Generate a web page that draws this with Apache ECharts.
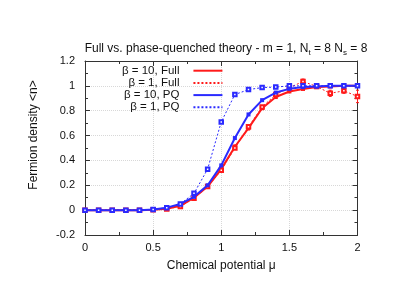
<!DOCTYPE html>
<html>
<head>
<meta charset="utf-8">
<script src="https://cdn.jsdelivr.net/npm/echarts@6/dist/echarts.min.js"></script>
<style>html,body{margin:0;padding:0;background:#fff}#c{width:415px;height:294px}</style>
</head>
<body>
<div id="c"></div>
<script>
var mu = [0,0.1,0.2,0.3,0.4,0.5,0.6,0.7,0.8,0.9,1.0,1.1,1.2,1.3,1.4,1.5,1.6,1.7,1.8,1.9,2.0];
var full10 = [0,0,0,0,0,0.003,0.012,0.035,0.10,0.19,0.33,0.51,0.66,0.82,0.91,0.955,0.975,0.99,0.995,1.0,1.0];
var full10Err = [0,0,0,0,0,0,0.003,0.005,0.008,0.01,0.012,0.015,0.015,0.01,0.008,0.006,0.005,0.004,0.004,0.003,0.003];
var full1  = [0,0,0,0,0,0.003,0.01,0.03,0.095,0.19,0.32,0.50,0.67,0.83,0.93,0.985,1.035,0.995,0.94,0.96,0.915];
var full1Err = [0,0,0,0,0,0,0.005,0.008,0.01,0.01,0.01,0.012,0.012,0.01,0.01,0.01,0.02,0.012,0.025,0.02,0.05];
var pq10   = [0,0,0,0,0,0.005,0.02,0.05,0.107,0.20,0.36,0.58,0.77,0.885,0.946,0.976,0.99,0.995,1.0,1.0,1.0];
var pq1    = [0,0,0,0,0,0.005,0.02,0.05,0.135,0.33,0.71,0.93,0.97,0.986,0.99,1.0,1.0,1.0,1.0,1.0,1.0];
var names = ['β = 10, Full','β = 1, Full','β = 10, PQ','β = 1, PQ'];
var xTicks = [0,0.5,1,1.5,2];
var yTicks = [-0.2,0,0.2,0.4,0.6,0.8,1,1.2];

function pairs(v){ return mu.map(function(m,i){ return [m, v[i]]; }); }
function errData(v, e){ return mu.map(function(m,i){ return [m, v[i]-e[i], v[i]+e[i]]; }); }
var RED = '#ff1a1a', BLUE = '#2a2aff';
var font = 'Liberation Sans, Arial, sans-serif';

function errSeries(v, e, color){
  return {
    type:'custom', data:errData(v, e), silent:true, z:1,
    encode:{x:0, y:[1,2]},
    renderItem:function(params, api){
      var lo = api.coord([api.value(0), api.value(1)]);
      var hi = api.coord([api.value(0), api.value(2)]);
      if (Math.abs(hi[1]-lo[1]) < 1) return null;
      return {type:'group', children:[
        {type:'line', shape:{x1:lo[0], y1:lo[1], x2:hi[0], y2:hi[1]}, style:{stroke:color, lineWidth:1}},
        {type:'line', shape:{x1:lo[0]-1.5, y1:lo[1], x2:lo[0]+1.5, y2:lo[1]}, style:{stroke:color, lineWidth:1}},
        {type:'line', shape:{x1:hi[0]-1.5, y1:hi[1], x2:hi[0]+1.5, y2:hi[1]}, style:{stroke:color, lineWidth:1}}
      ]};
    }
  };
}

var chart = echarts.init(document.getElementById('c'), null, {renderer:'canvas'});
function xAx(pos, labels){
  return {
    type:'value', position:pos, min:0, max:2, interval:0.5,
    axisLine:{show:true, onZero:false, lineStyle:{color:'#333', width:1}},
    axisTick:{show:true, inside:true, length:5, lineStyle:{color:'#333'}},
    minorTick:{show:true, splitNumber:2, length:3, lineStyle:{color:'#333'}},
    splitLine:{show:labels, lineStyle:{color:'#d8d8d8', type:'dotted'}},
    axisLabel:{show:labels, color:'#111', fontSize:11, fontFamily:font, margin:7},
    name: labels ? 'Chemical potential μ' : '', nameLocation:'middle', nameGap:25,
    nameTextStyle:{color:'#111', fontSize:12, fontFamily:font}
  };
}
function yAx(pos, labels){
  return {
    type:'value', position:pos, min:-0.2, max:1.2, interval:0.2,
    axisLine:{show:true, onZero:false, lineStyle:{color:'#333', width:1}},
    axisTick:{show:true, inside:true, length:5, lineStyle:{color:'#333'}},
    minorTick:{show:true, splitNumber:2, length:3, lineStyle:{color:'#333'}},
    splitLine:{show:labels, lineStyle:{color:'#d8d8d8', type:'dotted'}},
    axisLabel:{show:labels, color:'#111', fontSize:11, fontFamily:font, margin:10,
      formatter:function(v){ return String(Math.round(v*10)/10); }},
    name: labels ? 'Fermion density <n>' : '', nameLocation:'middle', nameGap:45, nameRotate:90,
    nameTextStyle:{color:'#111', fontSize:12, fontFamily:font, padding:[0,0,0,26]}
  };
}
chart.setOption({
  animation:false,
  backgroundColor:'#fff',
  title:{text:'Full vs. phase-quenched theory - m = 1, N{s|t} = 8 N{s|s} = 8', left:221, textAlign:'center', top:36,
    textStyle:{fontSize:12, fontWeight:'normal', color:'#111', fontFamily:font,
      rich:{s:{fontSize:8, verticalAlign:'bottom', padding:[8,0,0,0], color:'#111', fontFamily:font}}}},
  grid:{left:85, right:57.5, top:61, bottom:59},
  legend:{
    orient:'vertical', align:'right', left:122, top:64.6, padding:0,
    itemWidth:29, itemHeight:12.2, itemGap:0,
    textStyle:{fontSize:11.5, fontFamily:font, color:'#111', lineHeight:12.2, padding:[0,9,0,0]},
    itemStyle:{opacity:0},
    data:names
  },
  xAxis:[xAx('bottom', true), xAx('top', false)],
  yAxis:[yAx('left', true), yAx('right', false)],
  series:[
    {name:names[0], type:'line', data:pairs(full10), symbol:'rect', symbolSize:4,
      lineStyle:{color:RED, width:2}, itemStyle:{color:RED}, z:2},
    {name:names[1], type:'line', data:pairs(full1), symbol:'emptyRect', symbolSize:3.5,
      lineStyle:{color:RED, width:1, type:[2,2]}, itemStyle:{color:RED, borderWidth:1}, z:2},
    {name:names[2], type:'line', data:pairs(pq10), symbol:'rect', symbolSize:4,
      lineStyle:{color:BLUE, width:2}, itemStyle:{color:BLUE}, z:3},
    {name:names[3], type:'line', data:pairs(pq1), symbol:'emptyRect', symbolSize:3.5,
      lineStyle:{color:BLUE, width:1, type:[2,2]}, itemStyle:{color:BLUE, borderWidth:1}, z:3},
    errSeries(full10, full10Err, RED),
    errSeries(full1, full1Err, RED)
  ]
});
</script>
</body>
</html>
